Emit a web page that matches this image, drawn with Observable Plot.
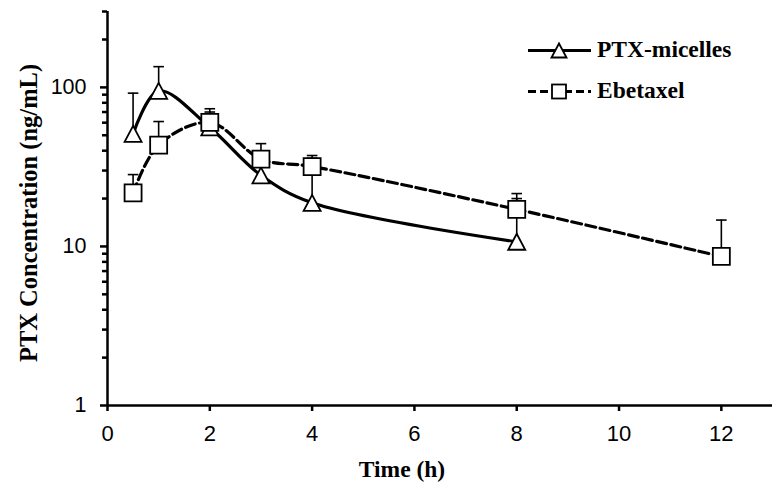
<!DOCTYPE html>
<html><head><meta charset="utf-8">
<script src="https://cdn.jsdelivr.net/npm/d3@7"></script>
<script src="https://cdn.jsdelivr.net/npm/@observablehq/plot@0.6"></script>
<style>body{margin:0;background:#fff} #chart{width:782px;height:489px}</style>
</head><body><div id="chart"></div>
<script>
const micellesTime = [0.5, 1, 2, 3, 4, 8];
const micellesConc = [51, 95, 56, 28, 18.8, 10.7];
const micellesSD   = [41, 40, 14, 7, 17, 9.3];
const ebetaxelTime = [0.5, 1, 2, 3, 4, 8, 12];
const ebetaxelConc = [21.7, 43.4, 60.2, 35.4, 31.8, 17.1, 8.65];
const ebetaxelSD   = [6.6, 17.6, 13.2, 8.9, 5.5, 4.4, 6.0];
const seriesNames = ["PTX-micelles", "Ebetaxel"];
const xTicks = [0, 2, 4, 6, 8, 10, 12];
const yMajor = [1, 10, 100];
const yMinor = [2,3,4,5,6,7,8,9,20,30,40,50,60,70,80,90,200,300];
const xTitle = "Time (h)";
const yTitle = "PTX Concentration (ng/mL)";

const micelles = micellesTime.map((t, i) => ({t, v: micellesConc[i], hi: micellesConc[i] + micellesSD[i]}));
const ebetaxel = ebetaxelTime.map((t, i) => ({t, v: ebetaxelConc[i], hi: ebetaxelConc[i] + ebetaxelSD[i]}));

const tri = {draw(ctx) { const w = 17, h = 16; ctx.moveTo(0, -h/2); ctx.lineTo(w/2, h/2); ctx.lineTo(-w/2, h/2); ctx.closePath(); }};
const sq = {draw(ctx) { const s = 8.5; ctx.moveTo(-s, -s); ctx.lineTo(s, -s); ctx.lineTo(s, s); ctx.lineTo(-s, s); ctx.closePath(); }};
const cap = {draw(ctx) { ctx.moveTo(-5.3, 0); ctx.lineTo(5.3, 0); }};

function seriesMarks(data, symbol, dash) {
  return [
    Plot.line(data, {x: "t", y: "v", curve: "catmull-rom", stroke: "#000", strokeWidth: 3.2, strokeDasharray: dash}),
    Plot.ruleX(data, {x: "t", y1: "v", y2: "hi", stroke: "#000", strokeWidth: 1.6}),
    Plot.dot(data, {x: "t", y: "hi", symbol: cap, stroke: "#000", strokeWidth: 1.6, fill: "none"}),
    Plot.dot(data, {x: "t", y: "v", symbol, stroke: "#000", strokeWidth: 1.8, fill: "#fff"})
  ];
}

const serif = "'Liberation Serif', 'Times New Roman', serif";
const chart = Plot.plot({
  width: 782, height: 489,
  marginLeft: 107, marginRight: 10, marginTop: 11, marginBottom: 84,
  style: {fontFamily: "'Liberation Sans', Arial, sans-serif", fontSize: "21px", color: "#000", background: "#fff"},
  x: {domain: [0, 13]},
  y: {type: "log", domain: [1, 300]},
  marks: [
    Plot.axisY({ticks: yMinor, tickSize: 5, tickFormat: () => "", label: null, strokeWidth: 2.5}),
    Plot.axisY({ticks: yMajor, tickSize: 7, tickPadding: 14, tickFormat: d => String(d), label: null, strokeWidth: 2.5, fontSize: 21.5}),
    Plot.axisX({ticks: xTicks, tickSize: 6, tickPadding: 14, tickFormat: d => String(d), label: null, strokeWidth: 2.5, fontSize: 22}),
    Plot.ruleX([0], {strokeWidth: 2.5}),
    Plot.ruleY([1], {strokeWidth: 2.5}),
    ...seriesMarks(micelles, tri, null),
    ...seriesMarks(ebetaxel, sq, "10,4.5"),
    Plot.text([yTitle], {frameAnchor: "left", textAnchor: "middle", lineAnchor: "middle", rotate: -90, dx: -78, dy: 4.5, fill: "#000", fontFamily: serif, fontWeight: "bold", fontSize: 24.5}),
    Plot.text([xTitle], {frameAnchor: "bottom", textAnchor: "middle", lineAnchor: "middle", dx: -38, dy: 63.5, fill: "#000", fontFamily: serif, fontWeight: "bold", fontSize: 23.5})
  ]
});

// Legend
const svg = d3.select(chart);
const leg = svg.append("g").attr("font-family", serif).attr("font-weight", "bold").attr("font-size", 23.5).attr("text-anchor", "start").attr("fill", "#000");
const entries = [
  {name: seriesNames[0], y: 50.5, dash: null, sym: "tri"},
  {name: seriesNames[1], y: 91.5, dash: "8,4", sym: "sq"}
];
entries.forEach(e => {
  leg.append("line").attr("x1", 528).attr("x2", 591).attr("y1", e.y).attr("y2", e.y)
    .attr("stroke", "#000").attr("stroke-width", 3).attr("stroke-dasharray", e.dash);
  if (e.sym === "tri") {
    leg.append("path").attr("d", `M559,${e.y-7}L566.5,${e.y+7}L551.5,${e.y+7}Z`).attr("fill", "#fff").attr("stroke", "#000").attr("stroke-width", 1.8);
  } else {
    leg.append("rect").attr("x", 552).attr("y", e.y - 7).attr("width", 14).attr("height", 14).attr("fill", "#fff").attr("stroke", "#000").attr("stroke-width", 1.8);
  }
  leg.append("text").attr("x", 597).attr("y", e.y + 6.5).attr("text-anchor", "start").text(e.name);
});

document.getElementById("chart").appendChild(chart);
</script>
</body></html>
